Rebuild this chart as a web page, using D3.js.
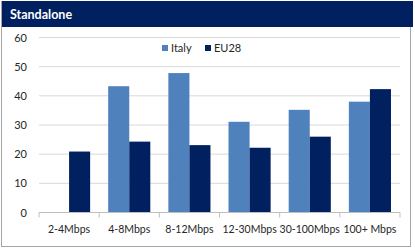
<!DOCTYPE html>
<html>
<head>
<meta charset="utf-8">
<script src="https://cdn.jsdelivr.net/npm/d3@7"></script>
<style>
  html, body { margin: 0; padding: 0; background: #fff; }
  svg { display: block; font-family: Lato, "Open Sans", sans-serif; }
</style>
</head>
<body>
<svg id="chart" width="415" height="248"></svg>
<script>
(function () {
    'use strict';

    const WIDTH = 415;
    const HEIGHT = 248;

    // data
    const categories = ["2-4Mbps", "4-8Mbps", "8-12Mbps", "12-30Mbps", "30-100Mbps", "100+ Mbps"];
    const seriesNames = ["Italy", "EU28"];
    const italy = [null, 43.3, 47.8, 31.1, 35.2, 38.0];
    const eu28 = [20.9, 24.3, 23.1, 22.2, 26.0, 42.3];
    const yTicks = [0, 10, 20, 30, 40, 50, 60];
    const colors = ["#4f81bd", "#002060"];

    let svg = d3.select('#chart');

    // frame and title bar
    svg.append('rect')
        .attr('x', 1.5).attr('y', 1.5)
        .attr('width', 409).attr('height', 245)
        .attr('fill', '#fff').attr('stroke', '#a6a6a6');
    svg.append('rect')
        .attr('x', 2).attr('y', 1)
        .attr('width', 411).attr('height', 26)
        .attr('fill', '#002060');
    svg.append('text')
        .attr('x', 10).attr('y', 19)
        .attr('fill', '#fff')
        .attr('font-size', 12.5)
        .attr('font-weight', 'bold')
        .text('Standalone');

    let x = d3.scaleBand()
        .domain(categories)
        .range([39, 400])
        .paddingInner(0.3)
        .paddingOuter(0.15);
    let xs = d3.scaleBand()
        .domain(seriesNames)
        .range([0, x.bandwidth()]);
    let y = d3.scaleLinear()
        .domain([0, 60])
        .range([212.5, 37.5]);

    // gridlines
    svg.append('g')
        .selectAll('line')
        .data(yTicks.filter(d => d > 0))
        .join('line')
        .attr('x1', 39).attr('x2', 400)
        .attr('y1', d => y(d)).attr('y2', d => y(d))
        .attr('stroke', '#d9d9d9');

    // y labels
    svg.append('g')
        .selectAll('text')
        .data(yTicks)
        .join('text')
        .attr('x', 27)
        .attr('y', d => y(d) + 4)
        .attr('text-anchor', 'end')
        .attr('font-size', 11)
        .attr('fill', '#262626')
        .text(d => d);

    // bars
    let rows = categories.map((c, i) => ({cat: c, values: [italy[i], eu28[i]]}));
    svg.append('g')
        .selectAll('g')
        .data(rows)
        .join('g')
        .attr('transform', d => `translate(${x(d.cat)},0)`)
        .selectAll('rect')
        .data(d => d.values.map((v, j) => ({name: seriesNames[j], v: v, c: colors[j]})).filter(d => d.v != null))
        .join('rect')
        .attr('x', d => xs(d.name))
        .attr('width', xs.bandwidth())
        .attr('y', d => y(d.v))
        .attr('height', d => y(0) - y(d.v))
        .attr('fill', d => d.c);

    // x axis
    let xAxis = svg.append('g')
        .attr('transform', `translate(0,${y(0)})`);
    xAxis.append('line')
        .attr('x1', 39).attr('x2', 400)
        .attr('stroke', '#bfbfbf');
    let step = x.step();
    let edges = d3.range(categories.length + 1).map(i => 39 + i * (361 / categories.length));
    xAxis.selectAll('line.tick')
        .data(edges)
        .join('line')
        .attr('class', 'tick')
        .attr('x1', d => d).attr('x2', d => d)
        .attr('y1', 0).attr('y2', 5)
        .attr('stroke', '#bfbfbf');
    xAxis.selectAll('text')
        .data(categories)
        .join('text')
        .attr('x', d => x(d) + x.bandwidth() / 2)
        .attr('y', 20)
        .attr('text-anchor', 'middle')
        .attr('font-size', 10.5)
        .attr('fill', '#262626')
        .text(d => d);

    // legend
    let legendX = [162, 205];
    let legend = svg.append('g')
        .selectAll('g')
        .data(seriesNames)
        .join('g')
        .attr('transform', (d, i) => `translate(${legendX[i]},45)`);
    legend.append('rect')
        .attr('width', 6).attr('height', 6)
        .attr('fill', (d, i) => colors[i]);
    legend.append('text')
        .attr('x', 9).attr('y', 7)
        .attr('font-size', 11)
        .attr('fill', '#262626')
        .text(d => d);
})();
</script>
</body>
</html>
